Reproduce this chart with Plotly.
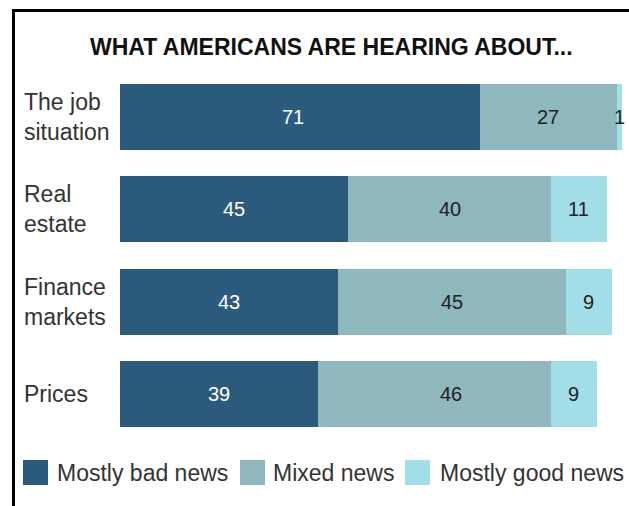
import plotly.graph_objects as go

categories = ["The job<br>situation", "Real<br>estate", "Finance<br>markets", "Prices"]
mostly_bad = [71, 45, 43, 39]
mixed = [27, 40, 45, 46]
mostly_good = [1, 11, 9, 9]
series_names = ["Mostly bad news", "Mixed news", "Mostly good news"]
title_text = "WHAT AMERICANS ARE HEARING ABOUT..."

W, H = 629, 506
colors = ["#2c5a7d", "#8fb7be", "#a2dee8"]
text_colors = ["#ffffff", "#222222", "#222222"]
FONT = "Liberation Sans, Arial, sans-serif"
# small pixel nudges of value labels, as placed in the original graphic
label_nudge = {(0, 0): -7, (3, 1): 17}

series = [mostly_bad, mixed, mostly_good]
ys = list(range(len(categories)))

fig = go.Figure()
for name, vals, col in zip(series_names, series, colors):
    fig.add_trace(go.Bar(
        y=ys, x=vals, name=name, orientation="h",
        marker=dict(color=col, line=dict(width=0)),
        width=0.715, showlegend=False, hoverinfo="x+name",
    ))

annotations = []
for i in ys:
    cum = 0
    for s, vals in enumerate(series):
        v = vals[i]
        annotations.append(dict(
            x=cum + v / 2, y=i, xref="x", yref="y", text=str(v),
            showarrow=False, font=dict(family=FONT, size=20, color=text_colors[s]),
            xanchor="center", yanchor="middle", xshift=label_nudge.get((i, s), 0),
        ))
        cum += v

for i, c in enumerate(categories):
    annotations.append(dict(
        x=22 / W, y=i, xref="paper", yref="y", text=c, showarrow=False,
        xanchor="left", yanchor="middle", align="left",
        font=dict(family=FONT, size=23, color="#333333"),
    ))

annotations.append(dict(
    x=331 / W, y=1 - 47 / H, xref="paper", yref="paper", text=title_text,
    showarrow=False, xanchor="center", yanchor="middle",
    font=dict(family=FONT, size=23, color="#111111", weight="bold"),
))

shapes = []
shapes.append(dict(type="rect", xref="paper", yref="paper",
                   x0=13.5 / W, x1=1.1, y0=-0.1, y1=1 - 10.5 / H,
                   line=dict(color="#000000", width=3), fillcolor="rgba(0,0,0,0)"))

leg_sq_x = [23, 240, 405]
leg_txt_x = [55, 271, 438]
sq = 25
cy = 472.5
for name, col, sx, tx in zip(series_names, colors, leg_sq_x, leg_txt_x):
    shapes.append(dict(type="rect", xref="paper", yref="paper",
                       x0=sx / W, x1=(sx + sq) / W,
                       y0=1 - (cy + sq / 2) / H, y1=1 - (cy - sq / 2) / H,
                       line=dict(width=0), fillcolor=col))
    annotations.append(dict(
        x=tx / W, y=1 - cy / H, xref="paper", yref="paper", text=name,
        showarrow=False, xanchor="left", yanchor="middle",
        font=dict(family=FONT, size=23, color="#333333"),
    ))

top_px = 117 - 46.15
bot_px = 394 + 46.15
fig.update_layout(
    width=W, height=H,
    margin=dict(l=0, r=0, t=0, b=0),
    paper_bgcolor="#ffffff", plot_bgcolor="#ffffff",
    barmode="stack", bargap=0,
    xaxis=dict(range=[0, 100], domain=[120 / W, 627 / W], visible=False, fixedrange=True),
    yaxis=dict(range=[3.5, -0.5], domain=[1 - bot_px / H, 1 - top_px / H], visible=False,
               fixedrange=True),
    annotations=annotations, shapes=shapes,
    showlegend=False,
)

fig.write_html("out.html")
